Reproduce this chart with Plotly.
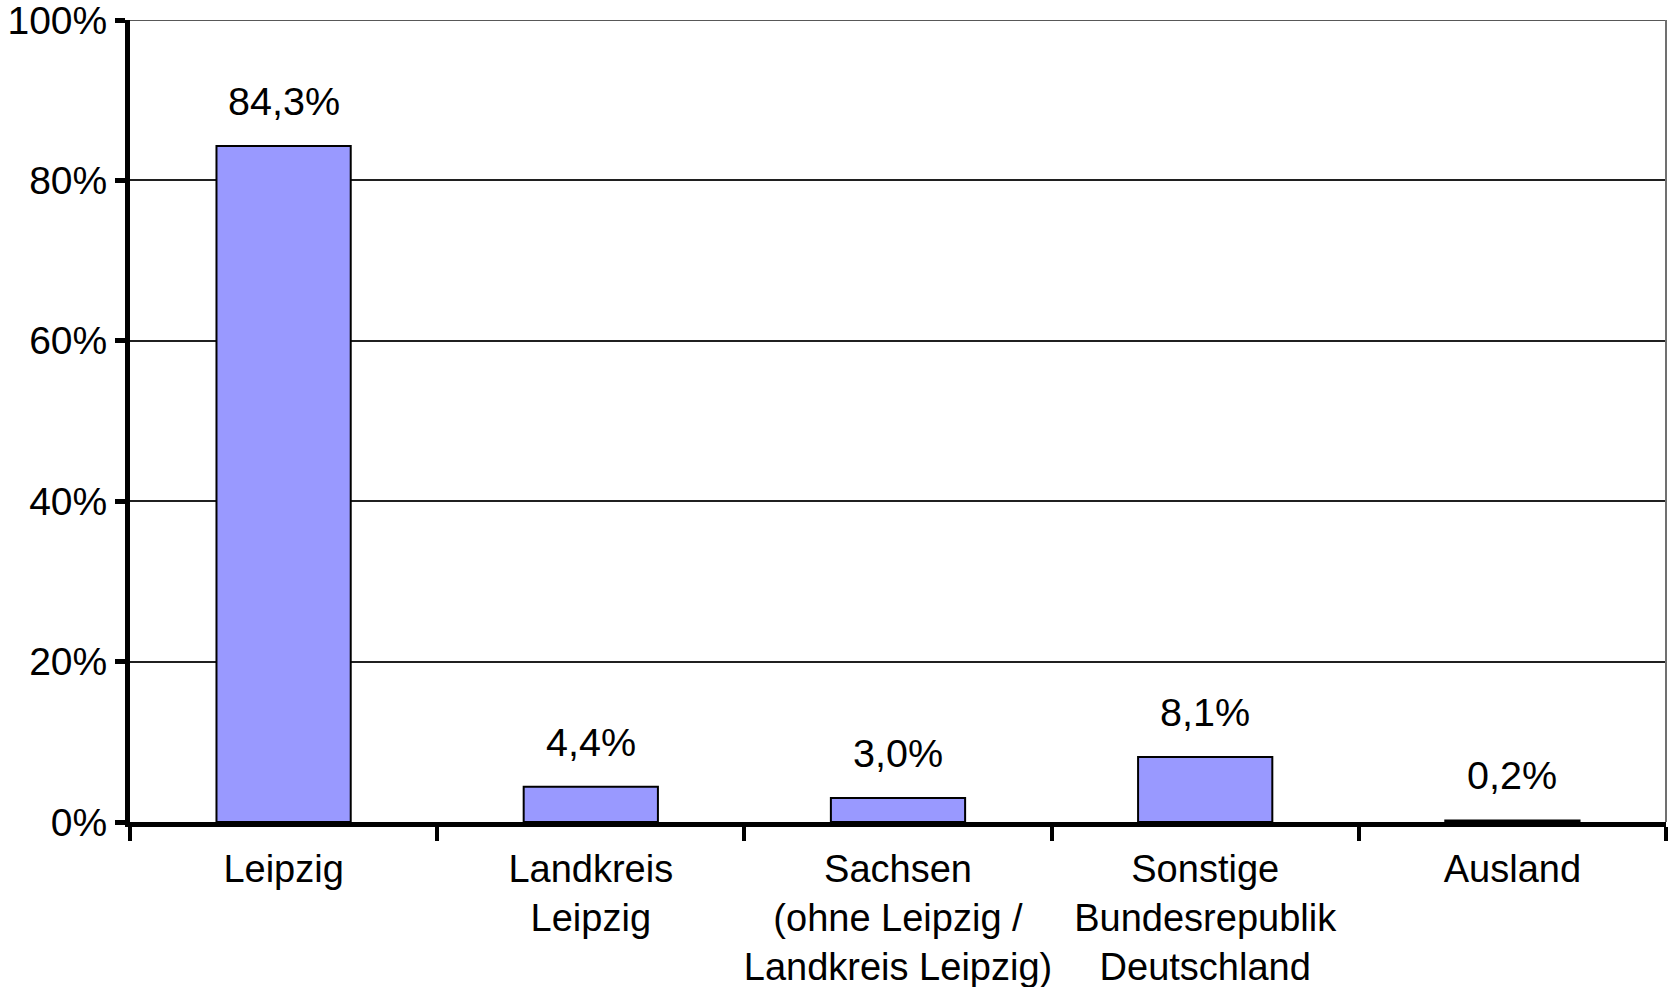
import plotly.graph_objects as go

# Herkunft der Befragten (Anteile in Prozent)
categories = [
    "Leipzig",
    "Landkreis<br>Leipzig",
    "Sachsen<br>(ohne Leipzig /<br>Landkreis Leipzig)",
    "Sonstige<br>Bundesrepublik<br>Deutschland",
    "Ausland",
]
shares = [84.3, 4.4, 3.0, 8.1, 0.2]
y_tick_values = [0, 20, 40, 60, 80, 100]
y_tick_labels = ["0%", "20%", "40%", "60%", "80%", "100%"]

FONT = "Liberation Sans, Arial, sans-serif"


def fmt_share(v):
    return f"{v:.1f}".replace(".", ",") + "%"


fig = go.Figure(
    go.Bar(
        x=categories,
        y=shares,
        marker=dict(color="#9999FF", line=dict(color="black", width=2)),
        hoverinfo="skip",
    )
)

for cat, v in zip(categories, shares):
    fig.add_annotation(
        x=cat, y=v, text=fmt_share(v), showarrow=False,
        yanchor="bottom", yshift=21,
        font=dict(family=FONT, size=39.5, color="black"),
    )

# top gridline and right border of the plot area
fig.add_shape(type="line", xref="paper", yref="y", x0=0, x1=1, y0=100, y1=100,
              line=dict(color="#202020", width=1.5))
fig.add_shape(type="line", xref="paper", yref="paper", x0=1, x1=1, y0=0, y1=1,
              line=dict(color="#707070", width=2))

fig.update_layout(
    width=1669, height=987,
    margin=dict(l=130, r=3, t=20, b=165),
    paper_bgcolor="white", plot_bgcolor="white",
    showlegend=False,
    bargap=0.563,
    font=dict(family=FONT, size=39, color="black"),
)

fig.update_xaxes(
    type="category",
    categoryorder="array", categoryarray=categories,
    tickson="boundaries",
    tickangle=0,
    ticklabelstandoff=9,
    automargin=False,
    showline=True, linewidth=5, linecolor="black",
    ticks="outside", ticklen=14, tickwidth=4, tickcolor="black",
    showgrid=False, zeroline=False,
    tickfont=dict(family=FONT, size=38, color="black"),
)

fig.update_yaxes(
    range=[0, 100],
    automargin=False,
    tickmode="array",
    tickvals=y_tick_values,
    ticktext=y_tick_labels,
    ticklabeloverflow="allow",
    showline=True, linewidth=5, linecolor="black",
    ticks="outside", ticklen=10, tickwidth=5, tickcolor="black",
    showgrid=True, gridcolor="#202020", gridwidth=1.5,
    zeroline=False,
    tickfont=dict(family=FONT, size=39, color="black"),
)

fig.write_html("out.html")
